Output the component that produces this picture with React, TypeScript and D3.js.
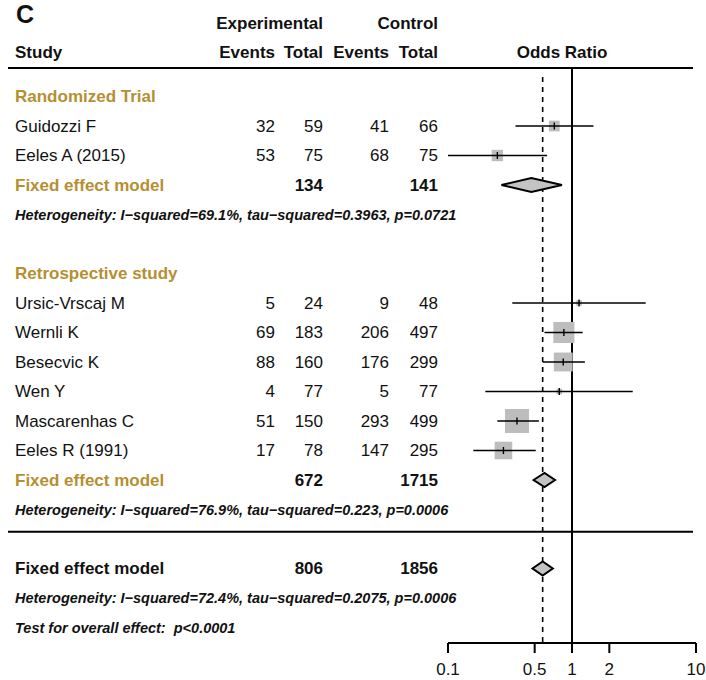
import React from 'react';
import * as d3 from 'd3';

// Study-level values
const groupNames = ['Randomized Trial', 'Retrospective study'];
const studies = ['Guidozzi F', 'Eeles A (2015)', 'Ursic-Vrscaj M', 'Wernli K', 'Besecvic K', 'Wen Y', 'Mascarenhas C', 'Eeles R (1991)'];
const studyGroup = [0, 0, 1, 1, 1, 1, 1, 1];
const expEvents = [32, 53, 5, 69, 88, 4, 51, 17];
const expTotal = [59, 75, 24, 183, 160, 77, 150, 78];
const ctrlEvents = [41, 68, 9, 206, 176, 5, 293, 147];
const ctrlTotal = [66, 75, 48, 497, 299, 77, 499, 295];
const oddsRatio = [0.72, 0.25, 1.14, 0.86, 0.85, 0.79, 0.36, 0.28];
const ciLower = [0.35, 0.1, 0.33, 0.6, 0.58, 0.2, 0.25, 0.16];
const ciUpper = [1.49, 0.63, 3.93, 1.22, 1.27, 3.09, 0.54, 0.51];
const weights = [8.9, 10.0, 2.4, 34.5, 27.6, 2.4, 44.7, 24.0];

// pooled (fixed effect) results: subgroup 1, subgroup 2, overall
const pooledOR = [0.47, 0.6, 0.58];
const pooledLower = [0.27, 0.49, 0.48];
const pooledUpper = [0.83, 0.73, 0.7];
const pooledExpTotal = [134, 672, 806];
const pooledCtrlTotal = [141, 1715, 1856];
const hetText = [
  'Heterogeneity: I\u2212squared=69.1%, tau\u2212squared=0.3963, p=0.0721',
  'Heterogeneity: I\u2212squared=76.9%, tau\u2212squared=0.223, p=0.0006',
  'Heterogeneity: I\u2212squared=72.4%, tau\u2212squared=0.2075, p=0.0006',
];
const overallTest = 'Test for overall effect:  p<0.0001';
const axisTicks = [0.1, 0.5, 1, 2, 10];

const FONT = '"Liberation Sans", Arial, Helvetica, sans-serif';
const GOLD = '#b58f31';

export default function App() {
  const width = 706;
  const height = 680;

  const x = d3.scaleLog().domain([0.1, 10]).range([448, 696]);
  const row = d3.scaleLinear().domain([0, 1]).range([96.5, 126]);
  const side = d3.scaleSqrt().domain([0, d3.max(weights) as number]).range([0, 24]);
  const axisY = 643;

  const colExpEv = 275;
  const colExpTot = 323;
  const colCtrlEv = 389;
  const colCtrlTot = 438;

  // build row layout
  type Row = { kind: string; idx: number; r: number };
  const rows: Row[] = [];
  let r = 0;
  groupNames.forEach((name, g) => {
    rows.push({ kind: 'group', idx: g, r: r++ });
    studies.forEach((s, i) => {
      if (studyGroup[i] === g) rows.push({ kind: 'study', idx: i, r: r++ });
    });
    rows.push({ kind: 'pooled', idx: g, r: r++ });
    rows.push({ kind: 'het', idx: g, r: r++ });
    r++;
  });
  const sepRow = r - 1.25;
  rows.push({ kind: 'pooled', idx: 2, r: r++ });
  rows.push({ kind: 'het', idx: 2, r: r++ });
  rows.push({ kind: 'test', idx: 0, r: r++ });

  const txt = { fontFamily: FONT, fontSize: 17, fill: '#111' } as const;
  const bold = { ...txt, fontWeight: 700 } as const;
  const het = { fontFamily: FONT, fontSize: 14.5, fontWeight: 700, fontStyle: 'italic', fill: '#111', whiteSpace: 'pre' } as const;

  const diamond = (or: number, lo: number, hi: number, y: number) =>
    `M${x(lo)},${y} L${x(or)},${y - 7} L${x(hi)},${y} L${x(or)},${y + 7} Z`;

  return (
    <svg width={width} height={height} style={{ position: 'absolute', left: 0, top: 0, background: '#fff' }}>
      <text x={16} y={23} style={{ ...bold, fontSize: 25 }}>C</text>

      {/* header */}
      <text x={colExpTot} y={row(-2.5)} dy="0.35em" textAnchor="end" style={bold}>Experimental</text>
      <text x={colCtrlTot} y={row(-2.5)} dy="0.35em" textAnchor="end" style={bold}>Control</text>
      <text x={15} y={row(-1.5)} dy="0.35em" style={bold}>Study</text>
      <text x={colExpEv} y={row(-1.5)} dy="0.35em" textAnchor="end" style={bold}>Events</text>
      <text x={colExpTot} y={row(-1.5)} dy="0.35em" textAnchor="end" style={bold}>Total</text>
      <text x={colCtrlEv} y={row(-1.5)} dy="0.35em" textAnchor="end" style={bold}>Events</text>
      <text x={colCtrlTot} y={row(-1.5)} dy="0.35em" textAnchor="end" style={bold}>Total</text>
      <text x={562} y={row(-1.5)} dy="0.35em" textAnchor="middle" style={bold}>Odds Ratio</text>
      <line x1={8} x2={693} y1={68} y2={68} stroke="#000" strokeWidth={2} />
      <line x1={8} x2={693} y1={row(sepRow)} y2={row(sepRow)} stroke="#000" strokeWidth={2} />

      {/* reference lines */}
      <line x1={x(1)} x2={x(1)} y1={68} y2={axisY} stroke="#000" strokeWidth={2} />
      <line x1={x(pooledOR[2])} x2={x(pooledOR[2])} y1={77} y2={axisY} stroke="#000" strokeWidth={1.6} strokeDasharray="5,5" />

      {rows.map((d, k) => {
        const y = row(d.r);
        if (d.kind === 'group') {
          return <text key={k} x={15} y={y} dy="0.35em" style={{ ...bold, fill: GOLD }}>{groupNames[d.idx]}</text>;
        }
        if (d.kind === 'study') {
          const i = d.idx;
          const s = Math.max(4, side(weights[i]));
          return (
            <g key={k}>
              <text x={15} y={y} dy="0.35em" style={txt}>{studies[i]}</text>
              <text x={colExpEv} y={y} dy="0.35em" textAnchor="end" style={txt}>{expEvents[i]}</text>
              <text x={colExpTot} y={y} dy="0.35em" textAnchor="end" style={txt}>{expTotal[i]}</text>
              <text x={colCtrlEv} y={y} dy="0.35em" textAnchor="end" style={txt}>{ctrlEvents[i]}</text>
              <text x={colCtrlTot} y={y} dy="0.35em" textAnchor="end" style={txt}>{ctrlTotal[i]}</text>
              <rect x={x(oddsRatio[i]) - s / 2} y={y - s / 2} width={s} height={s} fill="#bdbdbd" />
              <line x1={x(ciLower[i])} x2={x(ciUpper[i])} y1={y} y2={y} stroke="#000" strokeWidth={1.6} />
              <line x1={x(oddsRatio[i])} x2={x(oddsRatio[i])} y1={y - 3.5} y2={y + 3.5} stroke="#000" strokeWidth={1.4} />
            </g>
          );
        }
        if (d.kind === 'pooled') {
          const j = d.idx;
          const st = j < 2 ? { ...bold, fill: GOLD } : bold;
          return (
            <g key={k}>
              <text x={15} y={y} dy="0.35em" style={st}>Fixed effect model</text>
              <text x={colExpTot} y={y} dy="0.35em" textAnchor="end" style={bold}>{pooledExpTotal[j]}</text>
              <text x={colCtrlTot} y={y} dy="0.35em" textAnchor="end" style={bold}>{pooledCtrlTotal[j]}</text>
              <path d={diamond(pooledOR[j], pooledLower[j], pooledUpper[j], y)} fill="#c4c4c4" stroke="#000" strokeWidth={2} />
            </g>
          );
        }
        if (d.kind === 'het') {
          return <text key={k} x={15} y={y} dy="0.35em" style={het}>{hetText[d.idx]}</text>;
        }
        return <text key={k} x={15} y={y} dy="0.35em" xmlSpace="preserve" style={het}>{overallTest}</text>;
      })}

      {/* log axis */}
      <line x1={x(0.1)} x2={x(10)} y1={axisY} y2={axisY} stroke="#000" strokeWidth={2} />
      {axisTicks.map(t => (
        <g key={t}>
          <line x1={x(t)} x2={x(t)} y1={axisY} y2={axisY + 10} stroke="#000" strokeWidth={2} />
          <text x={x(t)} y={axisY + 26} dy="0.35em" textAnchor="middle" style={txt}>{t}</text>
        </g>
      ))}
    </svg>
  );
}
